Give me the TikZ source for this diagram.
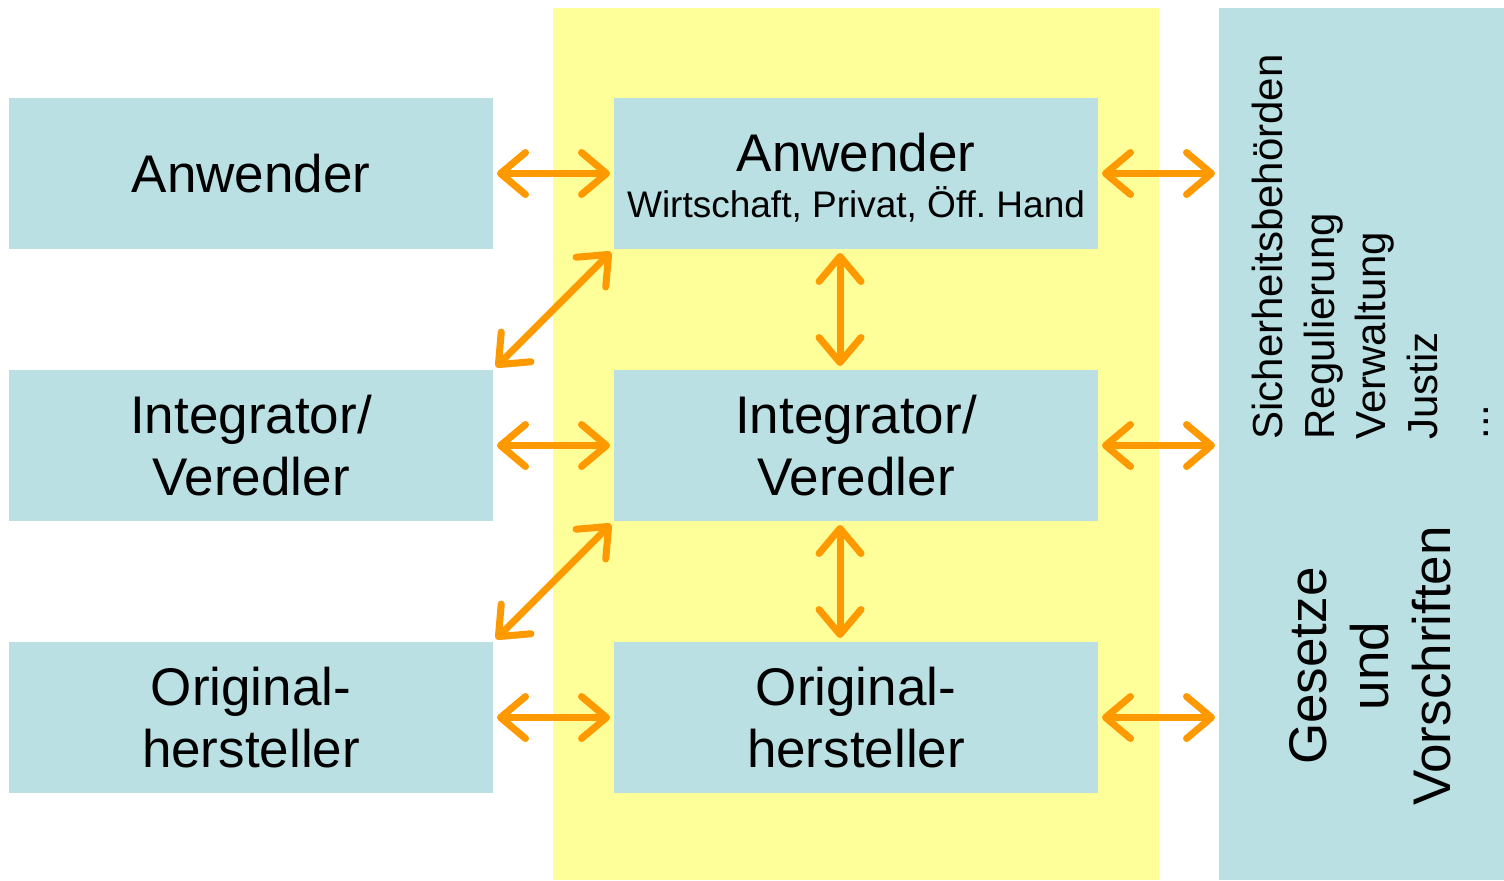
\documentclass[tikz,border=0pt]{standalone}
\usepackage{fontspec}
\setmainfont{Liberation Sans}
\usetikzlibrary{arrows.meta}
\frenchspacing
\definecolor{boxblue}{RGB}{186,224,228}
\definecolor{zoneyellow}{RGB}{255,255,153}
\definecolor{linkorange}{RGB}{255,153,0}
\tikzset{
  actor/.style={fill=boxblue, draw=none, minimum width=242pt, minimum height=75.5pt,
    inner sep=0pt, align=center, font=\fontsize{26.5pt}{31pt}\selectfont},
  panel/.style={fill=boxblue, draw=none, inner sep=0pt},
  link/.style={draw=linkorange, line width=3.5pt, line cap=round,
    {Straight Barb[length=12.5pt, width=21pt, round]}-{Straight Barb[length=12.5pt, width=21pt, round]},
    shorten >=1.8pt, shorten <=1.8pt},
}
\begin{document}
\begin{tikzpicture}[x=0.5pt, y=-0.5pt]
\useasboundingbox (0,0) rectangle (1504,880);
% yellow zone behind the middle column
\fill[zoneyellow] (553,8) rectangle (1159,880);
% right panel
\node[panel, minimum width=142.5pt, minimum height=436pt] (law) at (1361.5,444) {};

% left column
\node[actor] (la) at (251,173.5) {Anwender};
\node[actor] (li) at (251,445.5) {Integrator/\\Veredler};
\node[actor] (lo) at (251,717.5) {Original-\\hersteller};

% middle column
\node[actor] (ma) at (856,173.5) {\rule{0pt}{23pt}Anwender\\[-8pt]{\fontsize{18.5pt}{22pt}\selectfont Wirtschaft, Privat, Öff. Hand}};
\node[actor] (mi) at (856,445.5) {Integrator/\\Veredler};
\node[actor] (mo) at (856,717.5) {Original-\\hersteller};

% texts of the right panel
\node[rotate=90, anchor=north west, align=left, inner sep=0pt,
  font=\fontsize{21pt}{25.75pt}\selectfont] (authorities) at (1252,440)
  {Sicherheitsbehörden\\Regulierung\\Verwaltung\\Justiz\\...};
\node[rotate=90, align=center, inner sep=0pt,
  font=\fontsize{26.5pt}{31pt}\selectfont] (laws) at (1370,666)
  {Gesetze\\und\\Vorschriften};

% horizontal links
\draw[link] (la.east) -- (ma.west);
\draw[link] (li.east) -- (mi.west);
\draw[link] (lo.east) -- (mo.west);
\draw[link] (ma.east) -- (law.west |- ma.east);
\draw[link] (mi.east) -- (law.west |- mi.east);
\draw[link] (mo.east) -- (law.west |- mo.east);

% vertical links
\draw[link] ([xshift=-8pt]ma.south) -- ([xshift=-8pt]mi.north);
\draw[link] ([xshift=-8pt]mi.south) -- ([xshift=-8pt]mo.north);

% diagonal links
\draw[link] (ma.south west) -- (li.north east);
\draw[link] (mi.south west) -- (lo.north east);
\end{tikzpicture}
\end{document}
